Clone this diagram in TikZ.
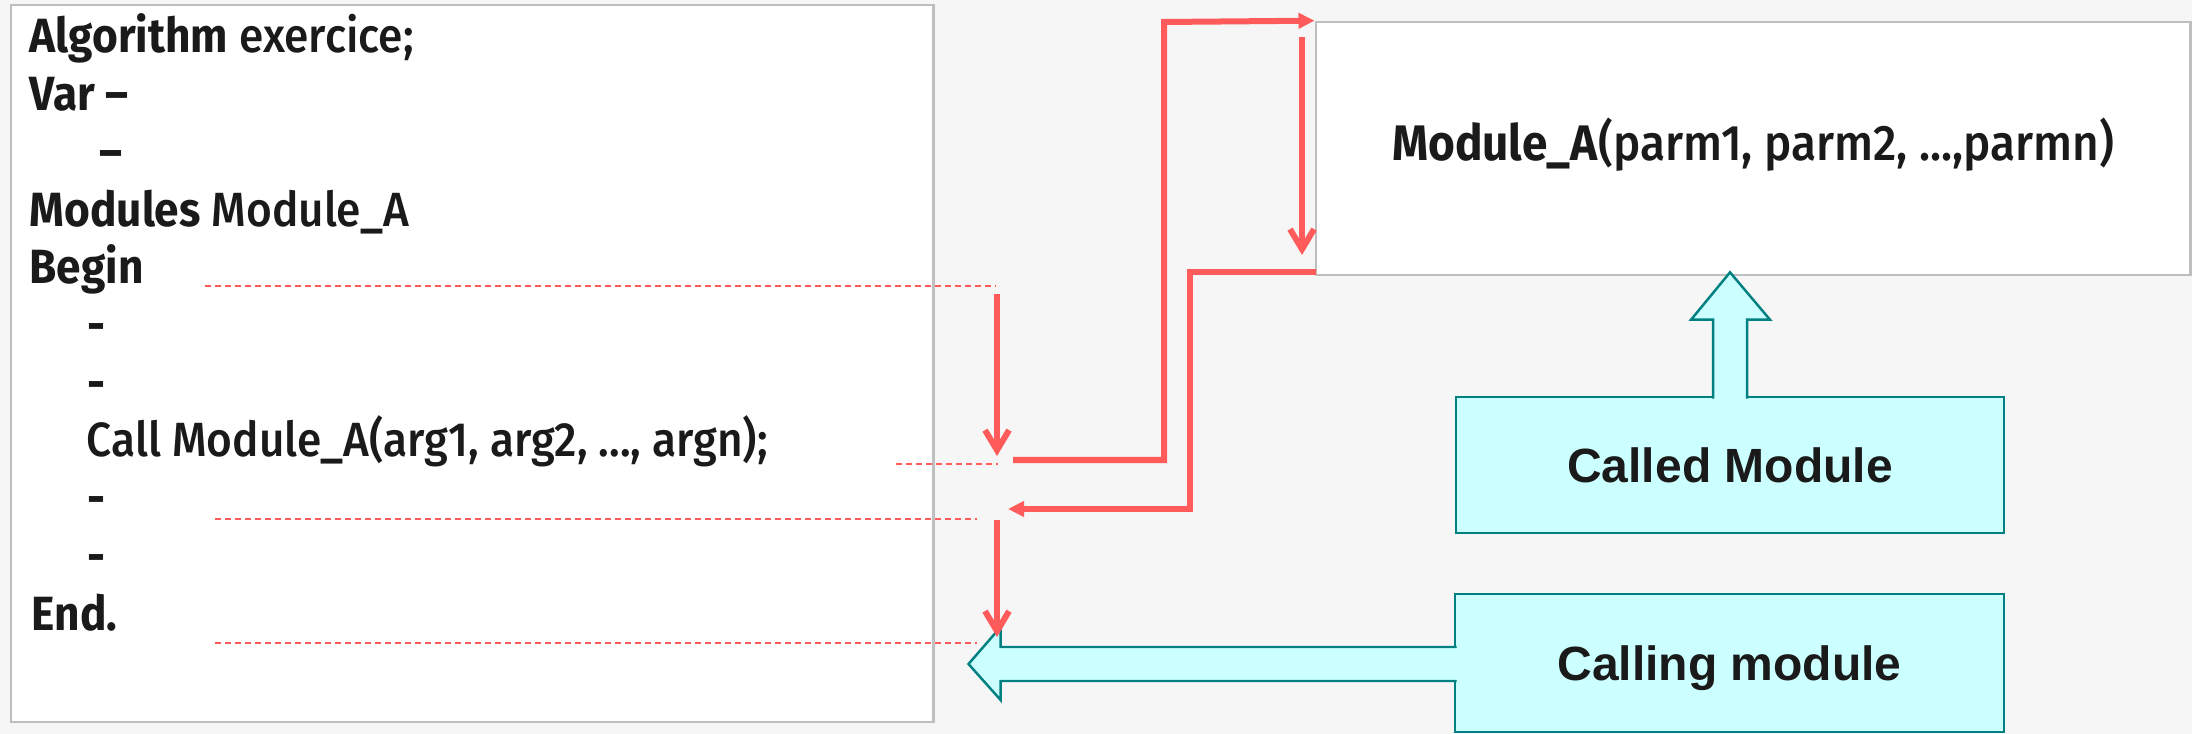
\documentclass[tikz,border=0pt]{standalone}
\usepackage{fontspec}
\setmainfont{Fira Sans Medium}[FakeStretch=0.92,BoldFont=Fira Sans Bold]
\newfontfamily\labelfont{Liberation Sans}
\usetikzlibrary{arrows.meta,calc}

\definecolor{pagebg}{HTML}{F6F6F6}
\definecolor{boxline}{HTML}{BEBEBE}
\definecolor{ink}{HTML}{1A1A1A}
\definecolor{callred}{HTML}{FF5B5B}
\definecolor{tealline}{HTML}{008080}
\definecolor{tealfill}{HTML}{CCFFFF}

\newcommand\codesize{\fontsize{13.66pt}{16pt}\selectfont}
\newcommand\headsize{\fontsize{14.2pt}{17pt}\selectfont}

\begin{document}
\begin{tikzpicture}[x=0.01cm,y=-0.01cm,
  codeline/.style={anchor=base west,inner sep=0pt,text=ink,font=\codesize},
  plainbox/.style={draw=boxline,line width=0.7pt,fill=white,inner sep=0pt},
  rolebox/.style={draw=tealline,line width=0.7pt,fill=tealfill,inner sep=0pt,
    text=ink,font=\labelfont\bfseries\codesize,text height=0.34cm,text depth=0pt},
  blockarrow/.style={draw=tealline,line width=0.7pt,fill=tealfill,line join=miter},
  guide/.style={draw=callred,line width=0.02cm,dash pattern=on 0.06cm off 0.04cm},
  flow/.style={draw=callred,line width=0.06cm},
  barb/.style={flow,-{Straight Barb[length=2mm,width=2.4mm]}},
  tri/.style={flow,-{Triangle[length=1.6mm,width=1.5mm]}}]

 \useasboundingbox (0,0) rectangle (2192,734);
 \fill[pagebg] (0,0) rectangle (2192,734);

 % program text
 \node[plainbox,minimum width=9.22cm,minimum height=7.17cm] (prog) at (472,363.5) {};
 \foreach \n/\xp/\txt in {
   1/29/{\textbf{Algorithm} exercice;},
   2/29/{\textbf{Var –}},
   3/99/{\textbf{–}},
   4/29/{\textbf{Modules} Module\_A},
   5/29/{\textbf{Begin}},
   6/87/{\textbf{-}},
   7/87/{\textbf{-}},
   8/86/{Call Module\_A(arg1, arg2, ..., argn);},
   9/87/{\textbf{-}},
   10/87/{\textbf{-}},
   11/31/{\textbf{End.}}
 } {
   \node[codeline] (line\n) at (\xp,{53+57.7*(\n-1)}) {\txt};
 }

 % the module itself
 \node[plainbox,minimum width=8.74cm,minimum height=2.53cm,
   font=\headsize,text=ink,text height=0.35cm,text depth=0.12cm]
   (module) at (1753,148.5) {\textbf{Module\_A}(parm1, parm2, ...,parmn)};

 \node[rolebox,minimum width=5.48cm,minimum height=1.36cm] (called) at (1730,465) {Called Module};
 \node[rolebox,minimum width=5.49cm,minimum height=1.38cm] (calling) at (1729.5,663) {Calling module};

 % block arrows, open at the box side
 \path[blockarrow] ($(called.north)+(-17,3)$) -- ++(0,-79) -- ++(-22,0)
   -- ($(called.north |- module.south)+(0,-4)$)
   -- ($(called.north)+(40,-76)$) -- ++(-23,0) -- ++(0,79);
 \path[blockarrow] ($(calling.west)+(3,-16)$) -- ++(-456,0) -- ++(0,-20)
   -- ($(prog.east |- calling.west)+(34,1)$)
   -- ($(calling.west)+(-453,37)$) -- ++(0,-19) -- ++(456,0);

 % dashed marks at the call points
 \foreach \nm/\xa/\xb/\yy in {begin/205/996/286, call/896/998/464,
   back/215/977/519, end/215/977/643} {
   \coordinate (\nm-a) at (\xa,\yy);
   \coordinate (\nm-b) at (\xb,\yy);
   \draw[guide] (\nm-a) -- (\nm-b);
 }

 % control flow
 \coordinate (run1) at (997,294);
 \coordinate (run1e) at (997,456);
 \coordinate (jump) at (1013,460);
 \coordinate (run2) at (1302,37);
 \coordinate (run2e) at (1302,255);
 \coordinate (ret) at (1316,272);
 \coordinate (back) at (1008,509);
 \coordinate (run3) at (997,520);
 \coordinate (run3e) at (997,637);

 \draw[barb] (run1) -- (run1e);
 \draw[tri] (jump) -| (1164,22) -- (module.north west);
 \draw[barb] (run2) -- (run2e);
 \draw[tri] (ret) -| (1190,509) -- (back);
 \draw[barb] (run3) -- (run3e);
\end{tikzpicture}
\end{document}
